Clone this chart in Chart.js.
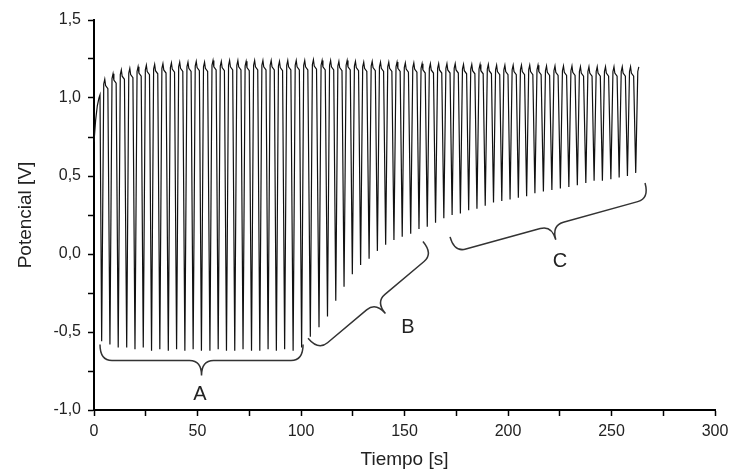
<!DOCTYPE html>
<html>
<head>
<meta charset="utf-8">
<script src="https://cdn.jsdelivr.net/npm/chart.js@4.4.1/dist/chart.umd.min.js"></script>
<style>
  body { margin: 0; background: #fff; }
  #wrap { width: 736px; height: 473px; }
</style>
</head>
<body>
<div id="wrap"><canvas id="myChart"></canvas></div>
<script>
// start of the record, before the first minimum
var startT = [0, 0.8, 1.6, 2.4, 2.9];
var startV = [0.72, 0.86, 0.95, 1.0, 1.02];

// time of each minimum [s]
var troughT = [3.7, 7.7, 11.7, 15.8, 19.8, 23.8, 27.8, 31.8, 35.9, 39.9,
  43.9, 47.9, 51.9, 56.0, 60.0, 64.0, 68.0, 72.0, 76.1, 80.1,
  84.1, 88.1, 92.1, 96.2, 100.3, 104.5, 108.7, 112.8, 116.8, 120.8,
  124.8, 128.8, 132.9, 136.9, 140.9, 144.9, 148.9, 153.0, 157.0, 161.0,
  165.0, 169.0, 173.0, 177.0, 181.0, 185.0, 189.0, 193.0, 197.0, 201.0,
  205.0, 209.0, 213.0, 217.1, 221.2, 225.3, 229.4, 233.5, 237.6, 241.6,
  245.6, 249.7, 253.7, 257.7, 261.7];
// potential at each minimum [V]
var troughV = [-0.56, -0.58, -0.60, -0.60, -0.61, -0.60, -0.62, -0.61, -0.62, -0.61,
  -0.62, -0.61, -0.62, -0.62, -0.61, -0.62, -0.62, -0.61, -0.62, -0.62,
  -0.61, -0.62, -0.61, -0.62, -0.60, -0.53, -0.47, -0.40, -0.30, -0.21,
  -0.13, -0.07, -0.03, 0.02, 0.06, 0.09, 0.11, 0.13, 0.16, 0.175,
  0.20, 0.23, 0.25, 0.26, 0.28, 0.29, 0.31, 0.33, 0.34, 0.35,
  0.36, 0.37, 0.39, 0.40, 0.41, 0.42, 0.43, 0.44, 0.455, 0.47,
  0.47, 0.48, 0.49, 0.50, 0.52];
// potential at the top of the spike that follows each minimum [V]
var peakV = [1.12, 1.155, 1.18, 1.19, 1.20, 1.21, 1.215, 1.22, 1.225, 1.23,
  1.23, 1.235, 1.23, 1.24, 1.235, 1.24, 1.24, 1.235, 1.24, 1.24,
  1.24, 1.235, 1.24, 1.24, 1.24, 1.245, 1.24, 1.24, 1.235, 1.24,
  1.235, 1.23, 1.235, 1.23, 1.23, 1.23, 1.225, 1.225, 1.22, 1.22,
  1.22, 1.22, 1.22, 1.215, 1.215, 1.215, 1.215, 1.21, 1.21, 1.21,
  1.21, 1.21, 1.21, 1.205, 1.205, 1.205, 1.205, 1.20, 1.20, 1.20,
  1.20, 1.20, 1.20, 1.20, 1.20];
// shape of the top of one spike: time after the minimum, offset from peak
var plateauDt = [1.0, 1.5, 1.9, 3.0];
var plateauDv = [-0.03, 0, -0.04, -0.06];
var endT = 263.4;

// braces A, B, C (data coords)
var braceLabels = ['A', 'B', 'C'];
var braceStart = [[2.9, -0.58], [103.4, -0.54], [172.0, 0.11]];
var braceEnd = [[101.0, -0.58], [158.9, 0.08], [266.2, 0.455]];
var labelPos = [[51.2, -0.90], [151.7, -0.47], [225.1, -0.05]];

var pts = [];
for (let i = 0; i < startT.length; i++) pts.push({x: startT[i], y: startV[i]});
for (let i = 0; i < troughT.length; i++) {
  pts.push({x: troughT[i], y: troughV[i]});
  for (let j = 0; j < plateauDt.length; j++) {
    var t = troughT[i] + plateauDt[j];
    if (t <= endT) pts.push({x: t, y: peakV[i] + plateauDv[j]});
  }
}

function drawBrace(ctx, x1, y1, x2, y2, arm, tip, r) {
  var L = Math.hypot(x2 - x1, y2 - y1);
  var m = L / 2;
  ctx.save();
  ctx.translate(x1, y1);
  ctx.rotate(Math.atan2(y2 - y1, x2 - x1));
  ctx.beginPath();
  ctx.moveTo(0, 0);
  ctx.quadraticCurveTo(0, arm, r, arm);
  ctx.lineTo(m - r, arm);
  ctx.quadraticCurveTo(m, arm, m, tip);
  ctx.quadraticCurveTo(m, arm, m + r, arm);
  ctx.lineTo(L - r, arm);
  ctx.quadraticCurveTo(L, arm, L, 0);
  ctx.stroke();
  ctx.restore();
}

var bracePlugin = {
  id: 'braces',
  afterDatasetsDraw(chart) {
    var ctx = chart.ctx, xs = chart.scales.x, ys = chart.scales.y;
    ctx.save();
    ctx.strokeStyle = '#333';
    ctx.lineWidth = 1.5;
    ctx.fillStyle = '#222';
    ctx.font = '20px "Liberation Sans", Arial, sans-serif';
    ctx.textAlign = 'center';
    ctx.textBaseline = 'middle';
    for (let i = 0; i < braceLabels.length; i++) {
      drawBrace(ctx,
        xs.getPixelForValue(braceStart[i][0]), ys.getPixelForValue(braceStart[i][1]),
        xs.getPixelForValue(braceEnd[i][0]), ys.getPixelForValue(braceEnd[i][1]),
        16, 31, 12);
      ctx.fillText(braceLabels[i], xs.getPixelForValue(labelPos[i][0]), ys.getPixelForValue(labelPos[i][1]));
    }
    ctx.restore();
  }
};

var font = {family: '"Liberation Sans", Arial, sans-serif', size: 16};
var titleFont = {family: '"Liberation Sans", Arial, sans-serif', size: 19};

new Chart('myChart', {
  type: 'line',
  data: {
    datasets: [{
      data: pts,
      borderColor: '#111',
      borderWidth: 1.2,
      pointRadius: 0,
      tension: 0,
      fill: false
    }]
  },
  options: {
    responsive: true,
    maintainAspectRatio: false,
    animation: false,
    layout: {padding: {top: 20, right: 21, left: 0, bottom: 0}},
    plugins: {legend: {display: false}, tooltip: {enabled: false}},
    scales: {
      x: {
        type: 'linear',
        min: 0, max: 300,
        afterFit: function (s) { s.height = 63; },
        border: {display: true, color: '#000', width: 2},
        grid: {drawOnChartArea: false, tickLength: 6, color: '#000', tickWidth: 1.5},
        ticks: {
          stepSize: 25, autoSkip: false, maxRotation: 0, padding: 6,
          color: '#222', font: font,
          callback: function (v) { return v % 50 === 0 ? String(v) : ''; }
        },
        title: {display: true, text: 'Tiempo [s]', color: '#222',
          font: titleFont, padding: {top: 0, bottom: 2}}
      },
      y: {
        min: -1, max: 1.5,
        afterFit: function (s) { s.width = 94; },
        border: {display: true, color: '#000', width: 2},
        grid: {drawOnChartArea: false, tickLength: 6, color: '#000', tickWidth: 1.5},
        ticks: {
          stepSize: 0.25, autoSkip: false, padding: 7,
          color: '#222', font: font,
          callback: function (v) {
            var k = Math.round(v * 4);
            if (k % 2 !== 0) return '';
            return (k / 4).toFixed(1).replace('.', ',');
          }
        },
        title: {display: true, text: 'Potencial [V]', color: '#222',
          font: titleFont, padding: {top: 14, bottom: 0}}
      }
    }
  },
  plugins: [bracePlugin]
});
</script>
</body>
</html>
